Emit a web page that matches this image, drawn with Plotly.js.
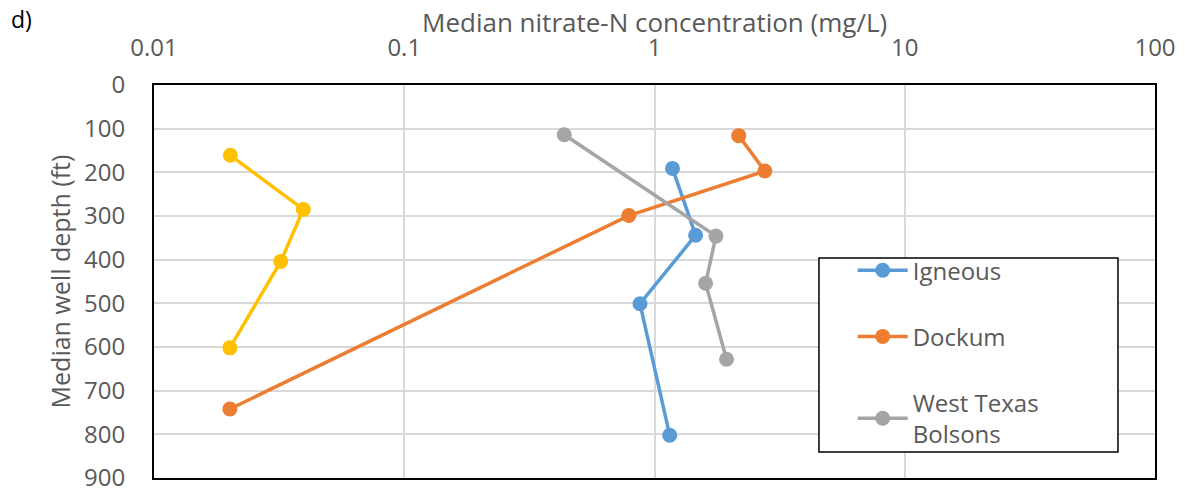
<!DOCTYPE html>
<html>
<head>
<meta charset="utf-8">
<script src="https://cdn.plot.ly/plotly-3.0.1.min.js"></script>
<style>html,body{margin:0;padding:0;background:#fff;}#chart{width:1185px;height:492px;}</style>
</head>
<body>
<div id="chart"></div>
<script>
// Data
const igneousConc = [1.18, 1.46, 0.875, 1.15];
const igneousDepth = [191, 344, 501, 802];
const dockumConc = [2.17, 2.76, 0.79, 0.0201];
const dockumDepth = [116, 197, 299, 742];
const bolsonsConc = [0.436, 1.76, 1.60, 1.94];
const bolsonsDepth = [114, 346, 454, 628];
const otherConc = [0.0202, 0.0395, 0.0321, 0.0201];
const otherDepth = [161, 285, 404, 602];

const xTickVals = [0.01, 0.1, 1, 10, 100];
const xTickText = ['0.01', '0.1', '1', '10', '100'];

const seriesNames = ['Igneous', 'Dockum', 'West Texas<br>Bolsons'];
const colors = ['#5B9BD5', '#ED7D31', '#A5A5A5', '#FFC000'];

const font = 'Open Sans, Liberation Sans, Arial, sans-serif';
const textColor = '#595959';

function tr(x, y, name, color, show, group) {
  return {
    x: x, y: y, name: name, type: 'scatter', mode: 'lines+markers',
    line: {color: color, width: 3.5},
    marker: {color: color, size: 15},
    showlegend: show, legendgroup: group
  };
}

const data = [
  tr(igneousConc, igneousDepth, seriesNames[0], colors[0], true, 'a'),
  tr(dockumConc, dockumDepth, seriesNames[1], colors[1], true, 'b'),
  tr(bolsonsConc, bolsonsDepth, seriesNames[2], colors[2], true, 'c'),
  tr(otherConc, otherDepth, 'Other', colors[3], false, 'd')
];

const layout = {
  width: 1185, height: 492,
  margin: {l: 154, r: 30, t: 85, b: 14},
  paper_bgcolor: '#fff', plot_bgcolor: '#fff',
  font: {family: font, color: textColor, size: 24},
  xaxis: {
    type: 'log', side: 'top', range: [-2, 2],
    tickvals: xTickVals, ticktext: xTickText,
    showgrid: true, gridcolor: '#d9d9d9', gridwidth: 2,
    showline: true, mirror: true, linecolor: '#000', linewidth: 2,
    ticks: '', zeroline: false,
    ticklabelstandoff: 17, ticklabeloverflow: 'allow',
    tickfont: {size: 24, color: textColor, family: font}
  },
  yaxis: {
    range: [900, 0], dtick: 100, tick0: 0,
    showgrid: true, gridcolor: '#d9d9d9', gridwidth: 2,
    showline: true, mirror: true, linecolor: '#000', linewidth: 2,
    ticks: '', zeroline: false,
    ticklabelstandoff: 22, ticklabeloverflow: 'allow',
    tickfont: {size: 24, color: textColor, family: font}
  },
  legend: {
    x: 0.698, y: 0.585, xanchor: 'left', yanchor: 'top',
    bgcolor: 'rgba(0,0,0,0)', borderwidth: 0,
    font: {size: 24, color: textColor, family: font},
    tracegroupgap: 32, traceorder: 'grouped',
    itemwidth: 50
  },
  shapes: [{
    type: 'rect', xref: 'paper', yref: 'paper', layer: 'above',
    x0: 0.6643, x1: 0.963, y0: 0.066, y1: 0.56,
    fillcolor: '#fff', line: {color: '#000', width: 1.5}
  }],
  annotations: [{
    text: 'd)', xref: 'paper', yref: 'paper', x: -0.145, y: 1.213,
    xanchor: 'left', yanchor: 'top', showarrow: false,
    font: {size: 23, color: '#000', family: font}
  }, {
    text: 'Median nitrate-N concentration (mg/L)', xref: 'paper', yref: 'paper',
    x: 0.5, y: 1.16, xanchor: 'center', yanchor: 'middle', showarrow: false,
    font: {size: 26, color: textColor, family: font}
  }, {
    text: 'Median well depth (ft)', xref: 'paper', yref: 'paper',
    x: -0.094, y: 0.5, xanchor: 'center', yanchor: 'middle',
    textangle: -90, showarrow: false,
    font: {size: 25, color: textColor, family: font}
  }]
};

Plotly.newPlot('chart', data, layout, {displayModeBar: false, staticPlot: true});
</script>
</body>
</html>
